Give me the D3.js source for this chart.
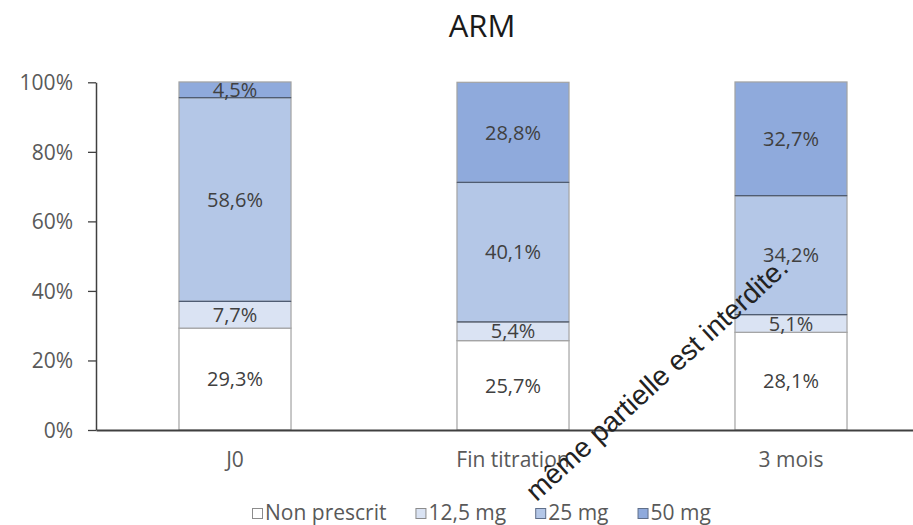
<!DOCTYPE html>
<html><head><meta charset="utf-8">
<script src="https://cdn.jsdelivr.net/npm/d3@7"></script>
<style>body{margin:0;background:#fff}svg{display:block}text{font-family:"Open Sans",sans-serif}</style>
</head><body><svg id="c" width="913" height="525"></svg>
<script>
const title = "ARM";
const categories = ["J0", "Fin titration", "3 mois"];
const seriesNames = ["Non prescrit", "12,5 mg", "25 mg", "50 mg"];
const nonPrescrit = [29.3, 25.7, 28.1];
const mg125 = [7.7, 5.4, 5.1];
const mg25 = [58.6, 40.1, 34.2];
const mg50 = [4.5, 28.8, 32.7];
const yTicks = [0, 20, 40, 60, 80, 100];
const colors = ["#ffffff", "#dae3f3", "#b4c7e7", "#8faadc"];
const watermark = "même partielle est interdite.";

const svg = d3.select("#c");
const x = d3.scaleBand().domain(categories).range([96, 930]).paddingInner(0.597).paddingOuter(0.2985);
const y = d3.scaleLinear().domain([0, 100]).range([430, 82.3]);

const data = categories.map((c, i) => ({cat: c, "Non prescrit": nonPrescrit[i], "12,5 mg": mg125[i], "25 mg": mg25[i], "50 mg": mg50[i]}));
const stacked = d3.stack().keys(seriesNames)(data);

// title
svg.append("text").attr("x", 482).attr("y", 37).attr("text-anchor", "middle")
  .attr("font-size", 31).attr("fill", "#1a1a1a").text(title);

// y axis
const yAxis = svg.append("g").attr("transform", "translate(96,0)")
  .call(d3.axisLeft(y).tickValues(yTicks).tickFormat(d => d + "%").tickSize(8).tickSizeOuter(0));
yAxis.select(".domain").attr("stroke", "#404040").attr("stroke-width", 1.5);
yAxis.selectAll(".tick line").attr("stroke", "#404040").attr("stroke-width", 1.3);
yAxis.selectAll(".tick text").attr("font-size", 21).attr("fill", "#595959").attr("x", -23)
  .attr("dy", "0.35em");

// bars
const g = svg.append("g");
stacked.forEach((s, si) => {
  g.selectAll(null).data(s).enter().append("rect")
    .attr("x", d => x(d.data.cat)).attr("width", x.bandwidth())
    .attr("y", d => y(d[1])).attr("height", d => y(d[0]) - y(d[1]))
    .attr("fill", colors[si]).attr("stroke", "#a3a3a3").attr("stroke-width", 1.2);
});
// darker edges of the 25 mg segments
const s25 = stacked[2];
s25.forEach(d => {
  [d[0], d[1]].forEach(v => {
    g.append("line").attr("x1", x(d.data.cat)).attr("x2", x(d.data.cat) + x.bandwidth())
      .attr("y1", y(v)).attr("y2", y(v)).attr("stroke", "#4f5c72").attr("stroke-width", 1.3);
  });
});
// labels
stacked.forEach(s => {
  g.selectAll(null).data(s).enter().append("text")
    .attr("x", d => x(d.data.cat) + x.bandwidth() / 2)
    .attr("y", d => (y(d[0]) + y(d[1])) / 2).attr("dy", "0.36em")
    .attr("text-anchor", "middle").attr("font-size", 20).attr("fill", "#404040")
    .text(d => d3.format(".1f")(d[1] - d[0]).replace(".", ",") + "%");
});

// x axis
const xAxis = svg.append("g").attr("transform", "translate(0,430)")
  .call(d3.axisBottom(x).tickSize(0).tickSizeOuter(0));
xAxis.select(".domain").attr("stroke", "#404040").attr("stroke-width", 1.8);
xAxis.selectAll(".tick text").attr("font-size", 21).attr("fill", "#595959")
  .attr("y", 22).attr("dy", "0.71em");

// legend
const leg = svg.append("g");
let lx = 252;
seriesNames.forEach((n, i) => {
  leg.append("rect").attr("x", lx + 0.5).attr("y", 508.5).attr("width", 10).attr("height", 10)
    .attr("fill", colors[i]).attr("stroke", i < 2 ? "#8c8c8c" : "#5f6f8a").attr("stroke-width", 1);
  const t = leg.append("text").attr("x", lx + 13).attr("y", 520).attr("font-size", 21)
    .attr("fill", "#595959").text(n);
  lx += 13 + t.node().getComputedTextLength() + 29;
});

// overlaid notice seen in the picture
svg.append("text").attr("transform", "translate(790,270) rotate(-42.5)")
  .attr("text-anchor", "end").style("font-family", "'Liberation Sans', Arial, sans-serif")
  .attr("font-size", 28).attr("fill", "#222").text(watermark);
</script></body></html>
